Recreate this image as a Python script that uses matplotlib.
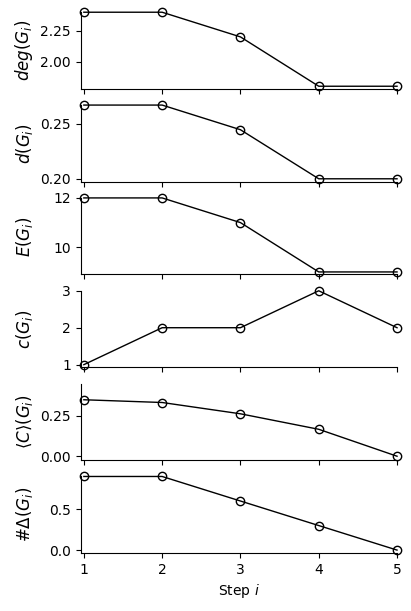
import numpy as np
import matplotlib
matplotlib.use("Agg")
import matplotlib.pyplot as plt

# ======================= DATA =======================
steps = [1, 2, 3, 4, 5]

deg_vals = [2.4, 2.4, 2.2, 1.8, 1.8]
dens_vals = [0.2667, 0.2667, 0.2444, 0.2, 0.2]
edge_vals = [12, 12, 11, 9, 9]
comp_vals = [1, 2, 2, 3, 2]
clust_vals = [0.35, 0.333, 0.263, 0.167, 0.0]
tri_vals = [0.9, 0.9, 0.6, 0.3, 0.0]

labels = [r'$deg(G_i)$', r'$d(G_i)$', r'$E(G_i)$', r'$c(G_i)$',
          r'$\langle C\rangle(G_i)$', r'$\#\Delta(G_i)$']
yticks = [[2.00, 2.25], [0.20, 0.25], [10, 12], [1, 2, 3],
          [0.00, 0.25], [0.0, 0.5]]
ylims = [(1.78, 2.4), (0.1975, 0.2667), (8.9, 12), (0.93, 3),
         (-0.024, 0.45), (-0.035, 0.9)]
# ====================================================

series = [deg_vals, dens_vals, edge_vals, comp_vals, clust_vals, tri_vals]

fig, axes = plt.subplots(6, 1, sharex=True, figsize=(4.11, 6.11), dpi=100)
fig.subplots_adjust(left=0.196, right=0.966, top=0.98, bottom=0.095, hspace=0.214)

for ax, vals, lab, yt, yl in zip(axes, series, labels, yticks, ylims):
    ax.plot(steps, vals, color='black', lw=1, marker='o', mfc='none',
            mec='black', ms=6, clip_on=False, zorder=3)
    ax.spines['top'].set_visible(False)
    ax.spines['right'].set_visible(False)
    ax.set_ylabel(lab, fontsize=12)
    ax.set_yticks(yt)
    ax.set_ylim(*yl)
    ax.set_xlim(0.958, 5)
    ax.set_xticks(steps)

axes[-1].set_xlabel('Step $i$')
fig.align_ylabels(axes)

plt.savefig("out.png", dpi=100)
plt.close()
